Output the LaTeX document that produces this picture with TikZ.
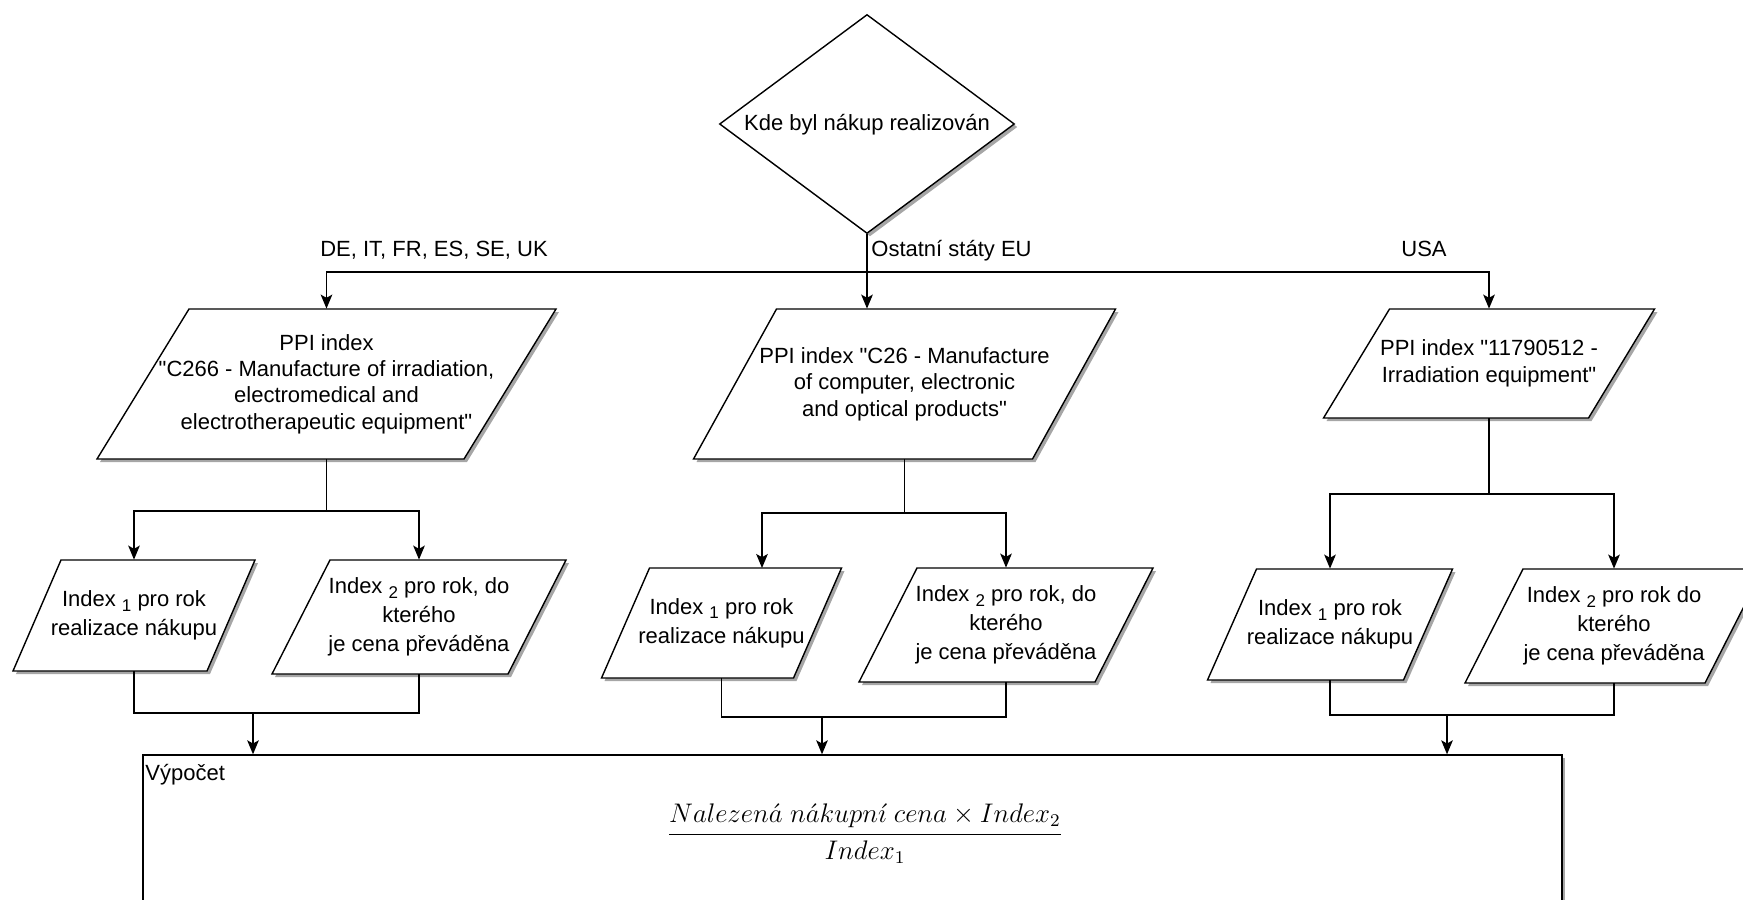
\documentclass[tikz,border=0pt]{standalone}
\usepackage{graphicx}
\usepackage{fontspec}
\setmainfont{Liberation Sans}
% the mono family carries no TeX ligatures, so it keeps straight quotes
\setmonofont{Liberation Sans}
\usetikzlibrary{arrows.meta,shapes.geometric,shadows,calc}

\newcommand\sq{{\ttfamily"}}
\newcommand\idx[1]{\raisebox{-2.4pt}{\fontsize{8.5}{8.5}\selectfont #1}}

\tikzset{
  line/.style={draw=black, line width=0.7pt},
  arr/.style={line, -{Stealth[length=7pt,width=5.8pt,inset=1.6pt]}},
  dshadow/.style={drop shadow={shadow xshift=1.5pt, shadow yshift=-1.5pt, opacity=0.35, fill=black}},
  shapeline/.style={line, fill=white, dshadow},
  paratext/.style={inner sep=0pt, align=center},
  biglines/.style={font=\fontsize{11}{13.2}\selectfont},
  smalllines/.style={font=\fontsize{11}{14.5}\selectfont},
  lbl/.style={anchor=base, inner sep=0pt, font=\fontsize{11}{13}\selectfont},
}

% parallelogram: name, cx, cy, top width, slant, height, text style, text
\newcommand\pgram[8]{%
  \draw[shapeline] ({#2-(#4)/2+(#5)/2},{#3-(#6)/2}) -- ({#2+(#4)/2+(#5)/2},{#3-(#6)/2})
    -- ({#2+(#4)/2-(#5)/2},{#3+(#6)/2}) -- ({#2-(#4)/2-(#5)/2},{#3+(#6)/2}) -- cycle;
  \node[paratext, #7, minimum width={(#4)*0.5pt}, minimum height={(#6)*0.5pt}] (#1) at (#2,#3) {#8};}

\begin{document}
\begin{tikzpicture}[x=0.5pt, y=-0.5pt]
\useasboundingbox (0,0) rectangle (1743,899);

% decision
\node[diamond, shapeline, inner sep=0pt, minimum width=147.5pt, minimum height=109.5pt] (d) at (867,124) {};
\node[lbl] (dtext) at (867,130) {Kde byl nákup realizován};

% index sources
\pgram{p1}{326.5}{384}{367}{92}{150}{biglines}{PPI index\\\sq C266 - Manufacture of irradiation,\\electromedical and\\electrotherapeutic equipment\sq}
\pgram{p2}{904.5}{384}{339}{83}{150}{biglines}{PPI index \sq C26 - Manufacture\\of computer, electronic\\and optical products\sq}
\pgram{p3}{1489}{363.5}{265}{66}{109}{biglines}{PPI index \sq 11790512 -\\Irradiation equipment\sq}

% yearly indices
\pgram{l1}{134}{615.5}{194}{48}{111}{smalllines}{Index \idx{1} pro rok\\realizace nákupu}
\pgram{l2}{419}{617}{236}{58}{114}{smalllines}{Index \idx{2} pro rok, do\\kterého\\je cena převáděna}
\pgram{m1}{721.5}{623}{192}{48}{110}{smalllines}{Index \idx{1} pro rok\\realizace nákupu}
\pgram{m2}{1006}{625}{236}{58}{114}{smalllines}{Index \idx{2} pro rok, do\\kterého\\je cena převáděna}
\pgram{r1}{1330}{624.5}{196}{49}{111}{smalllines}{Index \idx{1} pro rok\\realizace nákupu}
\pgram{r2}{1614}{626}{240}{58}{114}{smalllines}{Index \idx{2} pro rok do\\kterého\\je cena převáděna}

% calculation box
\node[shapeline, rectangle, inner sep=0pt, minimum width=709.5pt, minimum height=102.5pt] (calc) at (852.5,857.5) {};
\node[lbl, anchor=base west] (vyp) at (145,780) {Výpočet};
\node[anchor=base, inner sep=0pt, font=\fontsize{12}{14}\selectfont] (frac) at (865,841)
  {\scalebox{1.12}{$\displaystyle\frac{Nalezen\acute{a}\ n\acute{a}kupn\acute{\imath}\ cena\times Index_2}{Index_1}$}};

% branch labels
\node[lbl] (lab1) at (434,256) {DE, IT, FR, ES, SE, UK};
\node[lbl, anchor=base west] (lab2) at (871,256) {Ostatní státy EU};
\node[lbl] (lab3) at (1424,256) {USA};

% junction points
\coordinate (jn) at (867,272);
\coordinate (jl) at (326.5,511);
\coordinate (jm) at (904.5,513);
\coordinate (jr) at (1489,494);
\coordinate (m1in) at (762,568);
\coordinate (ml) at (253,713);
\coordinate (mm) at (822,717);
\coordinate (mr) at (1447,715);

% top split
\draw[line] (d.south) -- (jn);
\draw[arr] (jn) -| (p1.north);
\draw[arr] (jn) -- (jn |- p2.north);
\draw[arr] (jn) -| (p3.north);

% left group
\draw[line] (p1.south) -- (jl);
\draw[arr] (jl) -| (l1.north);
\draw[arr] (jl) -| (l2.north);
\draw[line] (l1.south) |- (ml);
\draw[line] (l2.south) |- (ml);
\draw[arr] (ml) -- (ml |- calc.north);

% middle group
\draw[line] (p2.south) -- (jm);
\draw[arr] (jm) -| (m1in);
\draw[arr] (jm) -| (m2.north);
\draw[line] (m1.south) |- (mm);
\draw[line] (m2.south) |- (mm);
\draw[arr] (mm) -- (mm |- calc.north);

% right group
\draw[line] (p3.south) -- (jr);
\draw[arr] (jr) -| (r1.north);
\draw[arr] (jr) -| (r2.north);
\draw[line] (r1.south) |- (mr);
\draw[line] (r2.south) |- (mr);
\draw[arr] (mr) -- (mr |- calc.north);
\end{tikzpicture}
\end{document}
